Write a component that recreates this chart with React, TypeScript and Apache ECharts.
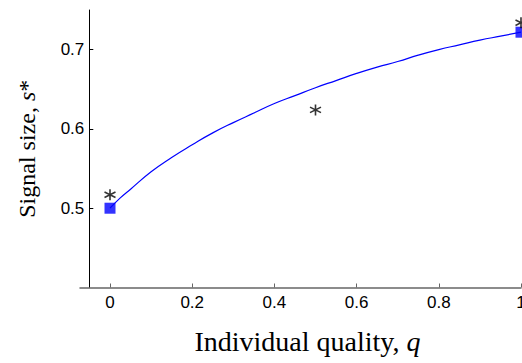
import React, { useEffect, useRef } from "react";
import * as echarts from "echarts";

const curveQ = [0, 0.025, 0.05, 0.1, 0.15, 0.2, 0.25, 0.3, 0.35, 0.4, 0.45, 0.5, 0.55, 0.6, 0.65, 0.7, 0.75, 0.8, 0.85, 0.9, 0.95, 1.0];
const curveS = [0.5, 0.513, 0.524, 0.546, 0.564, 0.58, 0.595, 0.608, 0.62, 0.632, 0.642, 0.652, 0.661, 0.67, 0.678, 0.685, 0.693, 0.7, 0.706, 0.712, 0.717, 0.722];
const squareQ = [0, 1];
const squareS = [0.5, 0.722];
const starQ = [0, 0.5, 1];
const starS = [0.517, 0.624, 0.734];
const xTicks = [0, 0.2, 0.4, 0.6, 0.8, 1];
const yTicks = [0.5, 0.6, 0.7];

const ASTERISK =
  "path://M0,-10 L0,10 M-8.66,-5 L8.66,5 M-8.66,5 L8.66,-5";

export default function App() {
  const ref = useRef<HTMLDivElement>(null);
  useEffect(() => {
    if (!ref.current) return;
    const chart = echarts.init(ref.current, null, { renderer: "svg" });
    const tickFont = { fontFamily: "Liberation Sans", fontSize: 17, color: "#000" };
    const titleStyle = (size: number, pad: number[]) => ({
      fontFamily: "Liberation Serif",
      fontSize: size,
      color: "#000",
      padding: pad,
      rich: {
        i: { fontFamily: "Liberation Serif", fontSize: size, fontStyle: "italic", color: "#000" },
      },
    });
    chart.setOption({
      animation: false,
      grid: {
        left: 80,
        right: 1,
        top: 10,
        bottom: 75.5,
        containLabel: false,
        outerBoundsMode: "none",
      },
      xAxis: {
        type: "value",
        min: -0.073,
        max: 1,
        splitLine: { show: false },
        axisLine: { show: true, onZero: false, lineStyle: { color: "#666", width: 1.5 } },
        axisTick: {
          show: true,
          inside: true,
          length: 4,
          customValues: xTicks,
          lineStyle: { color: "#666", width: 1 },
        },
        axisLabel: {
          ...tickFont,
          margin: 6,
          customValues: xTicks,
          formatter: (v: number) => String(Math.round(v * 10) / 10),
        },
        name: "Individual quality, {i|q}",
        nameLocation: "middle",
        nameGap: 40,
        nameTextStyle: titleStyle(28, [0, 0, 0, 14]),
      },
      yAxis: {
        type: "value",
        min: 0.4,
        max: 0.75,
        offset: -9.3,
        splitLine: { show: false },
        axisLine: { show: true, onZero: false, lineStyle: { color: "#000", width: 1 } },
        axisTick: {
          show: true,
          inside: true,
          length: 4,
          customValues: yTicks,
          lineStyle: { color: "#000", width: 1 },
        },
        axisLabel: {
          ...tickFont,
          margin: 5,
          customValues: yTicks,
          formatter: (v: number) => v.toFixed(1),
        },
        name: "Signal size, {i|s}*",
        nameLocation: "middle",
        nameRotate: 90,
        nameGap: 50,
        nameTextStyle: titleStyle(24, [0, 0, 0, 0]),
      },
      series: [
        {
          type: "line",
          data: curveQ.map((q, i) => [q, curveS[i]]),
          smooth: true,
          showSymbol: false,
          lineStyle: { color: "#0000ff", width: 1.2 },
          clip: false,
        },
        {
          type: "scatter",
          data: squareQ.map((q, i) => [q, squareS[i]]),
          symbol: "rect",
          symbolSize: 11,
          itemStyle: { color: "#0000ff" },
          clip: false,
        },
        {
          type: "scatter",
          data: starQ.map((q, i) => [q, starS[i]]),
          symbol: ASTERISK,
          symbolSize: 11,
          itemStyle: { color: "none", borderColor: "#000", borderWidth: 1.6 },
          clip: false,
        },
      ],
    });
    return () => chart.dispose();
  }, []);
  return <div ref={ref} style={{ width: 522, height: 363, position: "absolute", left: 0, top: 0 }} />;
}
